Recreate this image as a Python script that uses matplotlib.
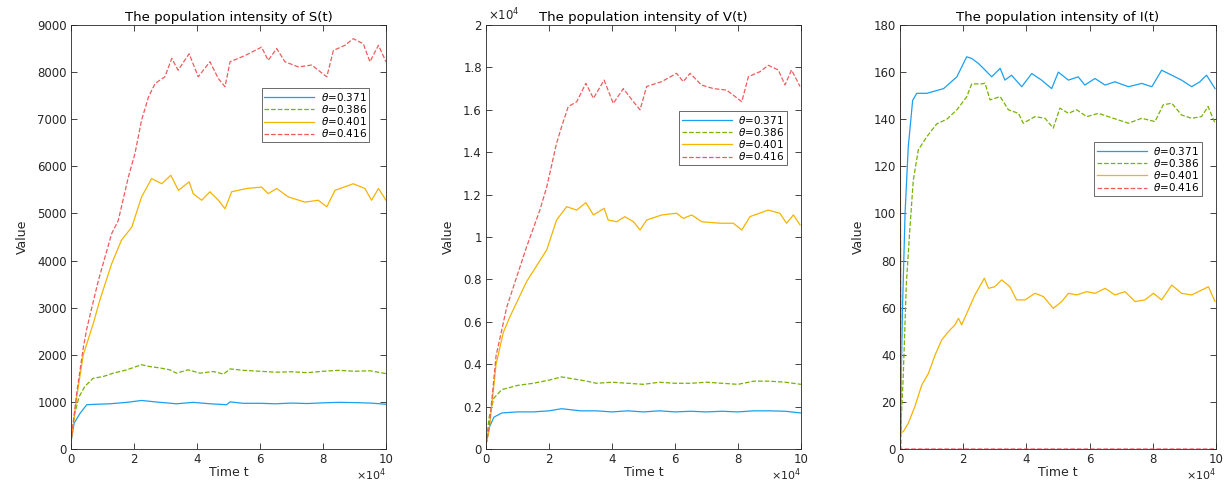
import matplotlib
matplotlib.use("Agg")
import matplotlib.pyplot as plt
from matplotlib.ticker import FuncFormatter, MultipleLocator

plt.rcParams['font.family'] = ['DejaVu Sans']
plt.rcParams['mathtext.fontset'] = 'dejavusans'

labels = [r'$\theta$=0.371', r'$\theta$=0.386', r'$\theta$=0.401', r'$\theta$=0.416']
colors = ['#1AA0F0', '#77B300', '#F5B400', '#EE5C5C']
styles = ['-', '--', '-', '--']

# ---------------- S(t) ----------------
S_t_371 = [0, 0.1, 0.29, 0.5, 0.81, 1.24, 1.77, 2.24, 2.83, 3.35, 3.88, 4.41, 4.94, 5.05, 5.47,
           6.0, 6.5, 7.0, 7.5, 8.0, 8.5, 9.0, 9.5, 10.0]
S_v_371 = [150, 550, 760, 940, 950, 960, 990, 1030, 990, 960, 990, 960, 940, 1000, 970,
           970, 960, 975, 965, 980, 990, 985, 975, 950]
S_t_386 = [0, 0.1, 0.25, 0.44, 0.7, 1.03, 1.34, 1.77, 2.24, 2.5, 2.83, 3.14, 3.35, 3.72, 4.1,
           4.52, 4.84, 5.05, 5.47, 6.0, 6.5, 7.0, 7.5, 8.0, 8.5, 9.0, 9.5, 10.0]
S_v_386 = [150, 700, 1100, 1330, 1500, 1540, 1610, 1680, 1790, 1750, 1720, 1680, 1610, 1680, 1610,
           1645, 1590, 1700, 1670, 1650, 1630, 1640, 1620, 1650, 1670, 1650, 1660, 1600]
S_t_401 = [0, 0.07, 0.18, 0.39, 0.71, 0.92, 1.29, 1.6, 1.93, 2.24, 2.56, 2.88, 3.17, 3.41, 3.75,
           3.88, 4.15, 4.41, 4.68, 4.89, 5.1, 5.58, 6.05, 6.26, 6.53, 6.9, 7.43, 7.85, 8.12, 8.38,
           8.96, 9.33, 9.54, 9.76, 10.0]
S_v_401 = [150, 500, 1100, 2000, 2670, 3170, 3930, 4430, 4710, 5350, 5740, 5630, 5810, 5490, 5670,
           5420, 5280, 5460, 5280, 5100, 5460, 5530, 5560, 5420, 5530, 5350, 5240, 5280, 5140, 5490,
           5630, 5530, 5280, 5530, 5280]
S_t_416 = [0, 0.07, 0.18, 0.39, 0.5, 0.66, 0.87, 1.29, 1.5, 1.82, 2.03, 2.24, 2.46, 2.67, 2.98,
           3.2, 3.4, 3.75, 4.04, 4.41, 4.68, 4.89, 5.05, 5.52, 6.05, 6.26, 6.53, 6.79, 7.22, 7.64,
           8.12, 8.33, 8.7, 8.96, 9.28, 9.49, 9.76, 10.0]
S_v_416 = [150, 550, 1180, 2150, 2550, 3000, 3580, 4570, 4850, 5770, 6270, 6980, 7470, 7760, 7900,
           8290, 8040, 8390, 7900, 8220, 7860, 7690, 8220, 8350, 8530, 8250, 8500, 8220, 8110, 8150,
           7900, 8460, 8570, 8710, 8600, 8220, 8570, 8220]

# ---------------- V(t) ----------------
V_t_371 = [0, 0.1, 0.25, 0.5, 1.0, 1.5, 2.0, 2.4, 3.0, 3.5, 4.0, 4.5, 5.0, 5.5, 6.0, 6.5, 7.0,
           7.5, 8.0, 8.5, 9.0, 9.5, 10.0]
V_v_371 = [200, 1000, 1500, 1700, 1750, 1750, 1800, 1900, 1800, 1800, 1750, 1800, 1750, 1800,
           1750, 1780, 1750, 1780, 1750, 1800, 1800, 1780, 1700]
V_t_386 = [0, 0.1, 0.25, 0.5, 1.0, 1.5, 2.0, 2.4, 2.8, 3.2, 3.5, 4.0, 4.5, 5.0, 5.5, 6.0, 6.5,
           7.0, 7.5, 8.0, 8.5, 9.0, 9.5, 10.0]
V_v_386 = [200, 1500, 2400, 2800, 3000, 3100, 3250, 3400, 3300, 3200, 3100, 3150, 3100, 3050,
           3150, 3100, 3100, 3150, 3100, 3050, 3200, 3200, 3150, 3050]
V_t_401 = [0, 0.1, 0.32, 0.55, 0.76, 1.29, 1.93, 2.24, 2.56, 2.88, 3.17, 3.41, 3.75, 3.88, 4.15,
           4.41, 4.68, 4.89, 5.1, 5.58, 6.05, 6.26, 6.53, 6.85, 7.43, 7.85, 8.12, 8.38, 8.96, 9.33,
           9.54, 9.76, 9.97]
V_v_401 = [200, 900, 4000, 5500, 6240, 7900, 9400, 10800, 11430, 11270, 11620, 11040, 11350, 10800,
           10720, 10960, 10720, 10330, 10800, 11040, 11120, 10880, 11040, 10720, 10650, 10650, 10330,
           10960, 11270, 11120, 10650, 11040, 10570]
V_t_416 = [0, 0.1, 0.32, 0.66, 1.29, 1.71, 1.93, 2.24, 2.4, 2.61, 2.88, 3.17, 3.41, 3.75, 4.04,
           4.36, 4.68, 4.89, 5.1, 5.58, 6.05, 6.26, 6.48, 6.84, 7.22, 7.64, 8.12, 8.33, 8.7, 8.96,
           9.28, 9.49, 9.7, 9.97]
V_v_416 = [200, 1000, 4400, 6700, 9540, 11270, 12370, 14420, 15200, 16150, 16380, 17250, 16540,
           17400, 16300, 17000, 16380, 16000, 17100, 17330, 17720, 17330, 17720, 17170, 17000,
           16930, 16380, 17560, 17800, 18100, 17880, 17170, 17880, 17100]

# ---------------- I(t) ----------------
I_t_371 = [0, 0.08, 0.16, 0.26, 0.4, 0.53, 0.85, 1.38, 1.8, 2.11, 2.27, 2.48, 2.64, 2.9, 3.17,
           3.32, 3.53, 3.85, 4.17, 4.48, 4.8, 5.01, 5.33, 5.64, 5.85, 6.17, 6.49, 6.8, 7.23, 7.65,
           7.97, 8.28, 8.6, 8.91, 9.23, 9.49, 9.7, 9.97]
I_v_371 = [2, 60, 100, 128, 148, 151, 151, 153, 158, 166.5, 165.8, 163.7, 161.6, 158, 161.6,
           156.6, 158.7, 153.8, 159.4, 156.6, 153, 160, 156.6, 158, 154.5, 157.3, 154.5, 155.9,
           153.8, 155.2, 153.8, 160.8, 158.7, 156.6, 153.8, 155.9, 158.7, 153]
I_t_386 = [0, 0.1, 0.2, 0.31, 0.42, 0.58, 0.85, 1.16, 1.48, 1.8, 2.11, 2.27, 2.59, 2.69, 2.85,
           3.17, 3.43, 3.75, 3.9, 4.27, 4.59, 4.85, 5.06, 5.33, 5.59, 5.91, 6.28, 6.59, 6.91, 7.23,
           7.65, 8.07, 8.33, 8.6, 8.91, 9.23, 9.54, 9.75, 9.97]
I_v_386 = [2, 30, 70, 93, 114, 127, 132.6, 138, 140, 144, 149.5, 155, 155, 155.3, 148.2,
           149.6, 144, 142.5, 138.3, 141.1, 140.4, 136.2, 144.7, 142.5, 144, 141.1, 142.5, 141.1,
           139.7, 138.3, 140.4, 139, 146.1, 146.8, 141.8, 140.4, 141.1, 145.4, 138.3]
I_t_401 = [0, 0.04, 0.105, 0.26, 0.47, 0.69, 0.9, 1.11, 1.32, 1.53, 1.74, 1.85, 1.95, 2.16, 2.37,
           2.67, 2.8, 3.0, 3.22, 3.48, 3.69, 3.96, 4.27, 4.54, 4.85, 5.12, 5.33, 5.59, 5.91, 6.17,
           6.49, 6.8, 7.12, 7.44, 7.75, 8.02, 8.28, 8.6, 8.91, 9.23, 9.76, 9.97]
I_v_401 = [170, 7, 7.4, 10.9, 18, 27.2, 32.1, 39.9, 46.3, 49.8, 52.7, 55.5, 52.7, 59, 65.4,
           72.5, 68.2, 68.9, 71.8, 68.9, 63.3, 63.3, 66.1, 64.7, 59.7, 62.6, 66.1, 65.4, 66.8, 66.1,
           68.2, 65.4, 66.8, 62.6, 63.3, 66.1, 63.3, 69.6, 66.1, 65.4, 68.9, 62.6]
I_t_416 = [0, 0.03, 10.0]
I_v_416 = [170, 0, 0]

TIME_SCALE = 1e4

panels = [
    dict(title='The population intensity of S(t)', ylim=(0, 9000), ystep=1000,
         series=[(S_t_371, S_v_371), (S_t_386, S_v_386), (S_t_401, S_v_401), (S_t_416, S_v_416)],
         yscale=None, rect=[71, 25, 386, 449], leg=(0.606, 0.851)),
    dict(title='The population intensity of V(t)', ylim=(0, 20000), ystep=2000,
         series=[(V_t_371, V_v_371), (V_t_386, V_v_386), (V_t_401, V_v_401), (V_t_416, V_v_416)],
         yscale=1e4, rect=[486, 25, 801, 449], leg=(0.613, 0.797)),
    dict(title='The population intensity of I(t)', ylim=(0, 180), ystep=20,
         series=[(I_t_371, I_v_371), (I_t_386, I_v_386), (I_t_401, I_v_401), (I_t_416, I_v_416)],
         yscale=None, rect=[900, 25, 1216, 449], leg=(0.614, 0.724)),
]

W, H = 1226, 482
fig = plt.figure(figsize=(W / 100, H / 100), dpi=100)
axc = '#262626'

def fmt_g(scale):
    def f(v, pos):
        return '%g' % round(v / scale, 6)
    return FuncFormatter(f)

for p in panels:
    x0, y0, x1, y1 = p['rect']
    ax = fig.add_axes([x0 / W, 1 - y1 / H, (x1 - x0) / W, (y1 - y0) / H])
    for (t, v), c, ls, lab in zip(p['series'], colors, styles, labels):
        ax.plot([ti * TIME_SCALE for ti in t], v, color=c, ls=ls, lw=0.9, label=lab)
    ax.set_xlim(0, 10 * TIME_SCALE)
    ax.set_ylim(*p['ylim'])
    ax.xaxis.set_major_locator(MultipleLocator(2 * TIME_SCALE))
    ax.xaxis.set_major_formatter(fmt_g(TIME_SCALE))
    ax.yaxis.set_major_locator(MultipleLocator(p['ystep']))
    if p['yscale']:
        ax.yaxis.set_major_formatter(fmt_g(p['yscale']))
        ax.text(0.005, 1.005, r'$\times10^{4}$', transform=ax.transAxes, fontsize=8.5,
                color=axc, ha='left', va='bottom')
    else:
        ax.yaxis.set_major_formatter(fmt_g(1))
    ax.text(1.0, -0.072, r'$\times10^{4}$', transform=ax.transAxes, fontsize=8,
            color=axc, ha='right', va='baseline')
    ax.tick_params(direction='in', top=True, right=True, length=4, width=0.6,
                   colors=axc, labelsize=8.5, pad=3)
    for s in ax.spines.values():
        s.set_color(axc)
        s.set_linewidth(0.6)
    ax.set_title(p['title'], fontsize=9.5, color='black', pad=3)
    ax.set_xlabel('Time t', fontsize=9, color=axc, labelpad=0)
    ax.set_ylabel('Value', fontsize=9, color=axc, labelpad=6)
    leg = ax.legend(loc='upper left', bbox_to_anchor=p['leg'], fontsize=7.5, frameon=True,
                    fancybox=False, handlelength=4.8, handletextpad=0.6, labelspacing=0.02,
                    borderpad=0.25, borderaxespad=0)
    leg.get_frame().set_edgecolor(axc)
    leg.get_frame().set_linewidth(0.6)

fig.savefig('out.png', dpi=100)
